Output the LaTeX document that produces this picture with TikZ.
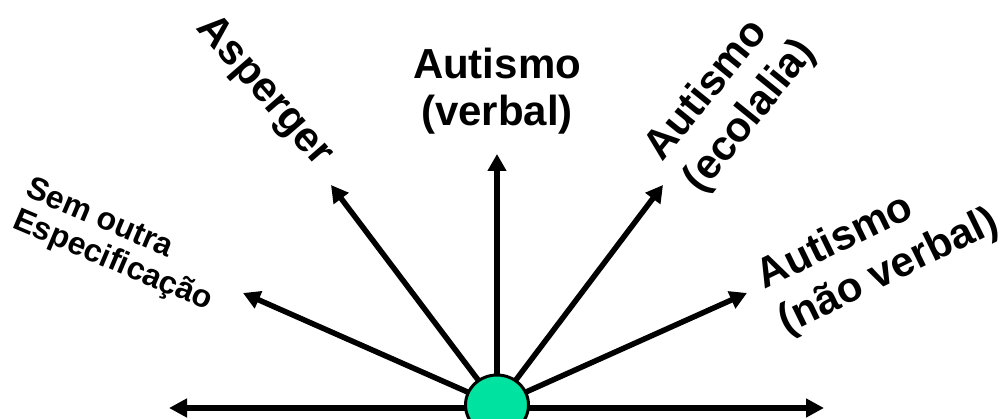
\documentclass[tikz,border=0pt]{standalone}
\usepackage{fontspec}
\setmainfont{Liberation Sans}
\usetikzlibrary{arrows.meta,shapes.geometric}
\definecolor{mint}{RGB}{0,226,160}
\tikzset{
  ray/.style={line width=5.5pt,-{Triangle[length=17pt,width=18pt]}},
  axis/.style={line width=6pt,{Triangle[length=18pt,width=18pt]}-{Triangle[length=18pt,width=18pt]}},
  big/.style={font=\bfseries\fontsize{42}{47}\selectfont,align=center,inner sep=0pt},
  bigl/.style={font=\bfseries\fontsize{42}{50}\selectfont,align=left,inner sep=0pt},
  small/.style={font=\bfseries\fontsize{32}{34}\selectfont,align=left,inner sep=0pt},
}
\begin{document}
\begin{tikzpicture}[x=1pt,y=-1pt]
\useasboundingbox (0,0) rectangle (1007,419);
\clip (0,0) rectangle (1007,419);
\coordinate (c) at (497,405);
\coordinate (tL) at (243,293);
\coordinate (tA) at (331,185);
\coordinate (tV) at (497,154);
\coordinate (tE) at (663,185);
\coordinate (tN) at (747,293);
\coordinate (hL) at (169,408);
\coordinate (hR) at (824,408);
\draw[axis] (hL) -- (hR);
\draw[ray] (c) -- (tL);
\draw[ray] (c) -- (tA);
\draw[ray] (c) -- (tV);
\draw[ray] (c) -- (tE);
\draw[ray] (c) -- (tN);
\node[ellipse,draw,line width=3pt,fill=mint,minimum width=63pt,minimum height=60pt,inner sep=0pt] (ctr) at (c) {};
\node[big] (lV) at (497,91) {Autismo\\(verbal)};
\node[big,rotate=-49] (lA) at (264,92) {Asperger};
\node[bigl,rotate=51] (lE) at (731,101) {Autismo\\(ecolalia)};
\node[bigl,rotate=26] (lN) at (878,250) {Autismo\\(não verbal)};
\node[small,rotate=-23] (lS) at (119,246) {Sem outra\\Especificação};
\end{tikzpicture}
\end{document}
